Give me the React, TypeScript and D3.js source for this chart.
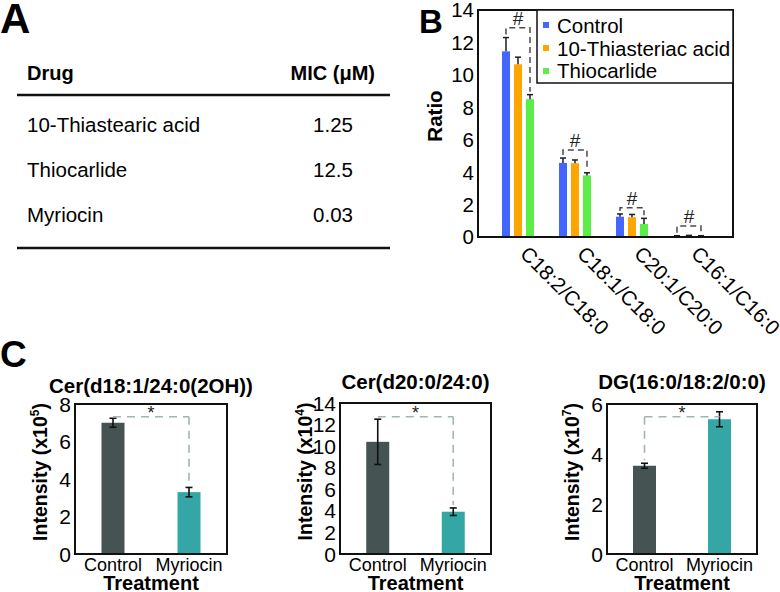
import React from "react";
import * as d3 from "d3";

const FONT = "'Liberation Sans', Arial, Helvetica, sans-serif";

// Panel A table
const aDrugs = ["10-Thiastearic acid", "Thiocarlide", "Myriocin"];
const aMIC = ["1.25", "12.5", "0.03"];

// Panel B
const bCategories = ["C18:2/C18:0", "C18:1/C18:0", "C20:1/C20:0", "C16:1/C16:0"];
const bSeries = ["Control", "10-Thiasteriac acid", "Thiocarlide"];
const bColors = ["#4466ff", "#ffa500", "#5aee46"];
const bControl = [11.45, 4.57, 1.25, 0.05];
const bControlErr = [0.85, 0.3, 0.17, 0.03];
const bThiaAcid = [10.65, 4.55, 1.22, 0.08];
const bThiaAcidErr = [0.44, 0.2, 0.17, 0.02];
const bThiocarlide = [8.5, 3.8, 0.8, 0.06];
const bThiocarlideErr = [0.28, 0.16, 0.35, 0.02];
const bBracket = [12.9, 5.37, 1.81, 0.68];
const bTicks = [0, 2, 4, 6, 8, 10, 12, 14];

// Panel C
const cTitles = ["Cer(d18:1/24:0(2OH))", "Cer(d20:0/24:0)", "DG(16:0/18:2/0:0)"];
const cGroups = ["Control", "Myriocin"];
const cControl = [7.0, 10.4, 3.53];
const cControlErr = [0.24, 2.1, 0.1];
const cMyriocin = [3.3, 3.92, 5.39];
const cMyriocinErr = [0.25, 0.35, 0.3];
const cMax = [8, 14, 6];
const cExp = ["5", "4", "7"];
const cSig = [7.32, 12.73, 5.49];

function PanelA() {
  return (
    <g fontFamily={FONT}>
      <text x={0} y={33} fontSize={42} fontWeight="bold">A</text>
      <text x={27} y={80} fontSize={20} fontWeight="bold">Drug</text>
      <text x={375} y={80} fontSize={20} fontWeight="bold" textAnchor="end">MIC (μM)</text>
      <line x1={17} x2={390} y1={95} y2={95} stroke="#111" strokeWidth={2.5} />
      {aDrugs.map((d, i) => (
        <g key={d}>
          <text x={27} y={132 + i * 45} fontSize={20.5}>{d}</text>
          <text x={333} y={132 + i * 45} fontSize={20.5} textAnchor="middle">{aMIC[i]}</text>
        </g>
      ))}
      <line x1={17} x2={390} y1={248} y2={248} stroke="#111" strokeWidth={2.5} />
    </g>
  );
}

function PanelB() {
  const left = 478, right = 733, top = 10, bottom = 237;
  const y = d3.scaleLinear().domain([0, 14]).range([bottom, top]);
  const x = d3.scalePoint<string>().domain(bCategories).range([left, right]).padding(0.737).align(0.476);
  const sub = d3.scaleBand<string>().domain(bSeries).range([-18, 18]).paddingInner(1 / 3).paddingOuter(1 / 6);
  const vals = [bControl, bThiaAcid, bThiocarlide];
  const errs = [bControlErr, bThiaAcidErr, bThiocarlideErr];
  const bw = sub.bandwidth();
  return (
    <g fontFamily={FONT}>
      <text x={419} y={33} fontSize={33} fontWeight="bold">B</text>
      {bTicks.map((t) => (
        <text key={t} x={left - 4} y={y(t)} dy="0.36em" fontSize={20.5} textAnchor="end">{t}</text>
      ))}
      <text transform={`translate(442,116) rotate(-90)`} fontSize={20.5} fontWeight="bold" textAnchor="middle">Ratio</text>
      {bCategories.map((c, ci) => {
        const cx = x(c) as number;
        return (
          <g key={c}>
            {bSeries.map((s, si) => {
              const bx = cx + (sub(s) as number);
              const v = vals[si][ci];
              const e = errs[si][ci];
              return (
                <g key={s}>
                  <rect x={bx} y={y(v)} width={bw} height={y(0) - y(v)} fill={bColors[si]} />
                  <line x1={bx + bw / 2} x2={bx + bw / 2} y1={y(v)} y2={y(v + e)} stroke="#1c1c2c" strokeWidth={1.5} />
                  <line x1={bx + bw / 2 - 3} x2={bx + bw / 2 + 3} y1={y(v + e)} y2={y(v + e)} stroke="#1c1c2c" strokeWidth={1.5} />
                </g>
              );
            })}
            {(() => {
              const lx = cx + (sub(bSeries[0]) as number) + bw / 2;
              const rx = cx + (sub(bSeries[2]) as number) + bw / 2;
              const by = y(bBracket[ci]);
              const lEnd = Math.max(by, y(bControl[ci] + bControlErr[ci]) - 3);
              const rEnd = Math.max(by, y(bThiocarlide[ci] + bThiocarlideErr[ci]) - 3);
              return (
                <g>
                  <path d={`M${lx},${lEnd}V${by}H${rx}V${rEnd}`} fill="none" stroke="#4a4a4a" strokeWidth={1.5} strokeDasharray="6,4" />
                  <text x={cx} y={by - 3} fontSize={19} textAnchor="middle" fill="#222">#</text>
                </g>
              );
            })()}
            <text transform={`translate(${cx + 1},255) rotate(45)`} fontSize={20.5}>{c}</text>
          </g>
        );
      })}
      <rect x={left} y={top} width={right - left} height={bottom - top} fill="none" stroke="#111" strokeWidth={2} />
      <rect x={537} y={top} width={right - 537} height={73} fill="#fff" stroke="#111" strokeWidth={1.5} />
      {bSeries.map((s, i) => (
        <g key={s}>
          <rect x={543} y={22 + i * 23} width={6} height={6} fill={bColors[i]} />
          <text x={557} y={33 + i * 22.5} fontSize={20.5}>{s}</text>
        </g>
      ))}
    </g>
  );
}

function CChart({ idx, left, right, top, bottom, titleY }: any) {
  const y = d3.scaleLinear().domain([0, cMax[idx]]).range([bottom, top]);
  const x = d3.scalePoint<string>().domain(cGroups).range([left, right]).padding(0.5);
  const ticks = d3.range(0, cMax[idx] + 1, 2);
  const vals = [cControl[idx], cMyriocin[idx]];
  const errs = [cControlErr[idx], cMyriocinErr[idx]];
  const colors = ["#465353", "#35a6a6"];
  const barW = 23;
  const cxs = cGroups.map((g) => x(g) as number);
  const sy = y(cSig[idx]);
  const lowIdx = vals[0] + errs[0] < vals[1] + errs[1] ? 0 : 1;
  const legEnd = y(vals[lowIdx] + errs[lowIdx]) - 3;
  const mid = (left + right) / 2;
  return (
    <g fontFamily={FONT}>
      <text x={mid} y={titleY} fontSize={20.5} fontWeight="bold" textAnchor="middle">{cTitles[idx]}</text>
      {ticks.map((t) => (
        <text key={t} x={left - 4} y={y(t)} dy="0.36em" fontSize={21} textAnchor="end">{t}</text>
      ))}
      <text transform={`translate(${left - 28},${(top + bottom) / 2 - 7}) rotate(-90)`} fontSize={19.5} fontWeight="bold" textAnchor="middle">
        Intensity (x10<tspan fontSize={12} dy={-8}>{cExp[idx]}</tspan><tspan dy={8}>)</tspan>
      </text>
      {cGroups.map((g, i) => (
        <g key={g}>
          <rect x={cxs[i] - barW / 2} y={y(vals[i])} width={barW} height={y(0) - y(vals[i])} fill={colors[i]} />
          <line x1={cxs[i]} x2={cxs[i]} y1={y(vals[i] - errs[i])} y2={y(vals[i] + errs[i])} stroke="#111" strokeWidth={1.6} />
          <line x1={cxs[i] - 3.5} x2={cxs[i] + 3.5} y1={y(vals[i] - errs[i])} y2={y(vals[i] - errs[i])} stroke="#111" strokeWidth={1.6} />
          <line x1={cxs[i] - 3.5} x2={cxs[i] + 3.5} y1={y(vals[i] + errs[i])} y2={y(vals[i] + errs[i])} stroke="#111" strokeWidth={1.6} />
          <text x={cxs[i]} y={571} fontSize={18} textAnchor="middle">{g}</text>
        </g>
      ))}
      <path d={`M${cxs[0]},${sy}H${cxs[1]}`} stroke="#a2b4b4" strokeWidth={1.6} strokeDasharray="8,6" fill="none" />
      <path d={`M${cxs[lowIdx]},${sy}V${legEnd}`} stroke="#a2b4b4" strokeWidth={1.6} strokeDasharray="8,6" fill="none" />
      <text x={(cxs[0] + cxs[1]) / 2} y={sy + 2} fontSize={18} textAnchor="middle" fill="#222">*</text>
      <rect x={left} y={top} width={right - left} height={bottom - top} fill="none" stroke="#111" strokeWidth={2} />
      <text x={mid} y={590} fontSize={20} fontWeight="bold" textAnchor="middle">Treatment</text>
    </g>
  );
}

export default function App() {
  return (
    <svg width={780} height={592} style={{ position: "absolute", left: 0, top: 0, background: "#fff" }}>
      <rect width={780} height={592} fill="#fff" />
      <PanelA />
      <PanelB />
      <text x={0} y={367} fontSize={37} fontWeight="bold" fontFamily={FONT}>C</text>
      <CChart idx={0} left={75} right={227} top={404} bottom={554} titleY={393} />
      <CChart idx={1} left={340} right={491} top={403} bottom={554} titleY={389} />
      <CChart idx={2} left={607} right={757} top={404} bottom={554} titleY={389} />
    </svg>
  );
}
